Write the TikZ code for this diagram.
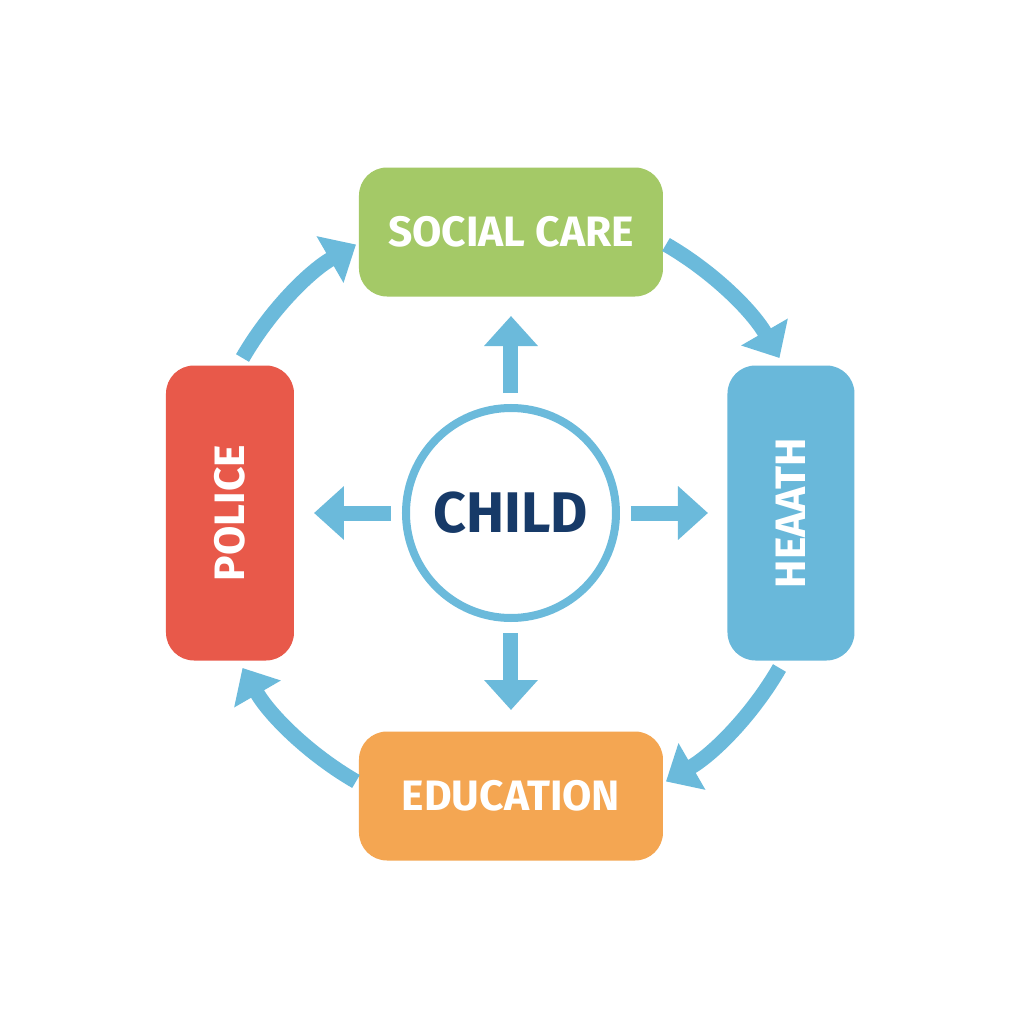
\documentclass[tikz,border=0pt]{standalone}
\usepackage{fontspec}
\setmainfont{Fira Sans}
\usetikzlibrary{arrows.meta}

\definecolor{caregreen}{HTML}{A4C967}
\definecolor{healthblue}{HTML}{69B8DA}
\definecolor{policered}{HTML}{E8594A}
\definecolor{eduorange}{HTML}{F4A652}
\definecolor{linkblue}{HTML}{6BBADB}
\definecolor{childnavy}{HTML}{173A68}

\tikzset{
  agency/.style={rounded corners=0.28cm, inner sep=0pt, text=white,
    font=\bfseries\fontsize{12.1}{14}\selectfont},
  flow/.style={draw=linkblue, line width=0.15cm,
    -{Triangle[width=0.52cm,length=0.30cm]}},
}

\begin{document}
\begin{tikzpicture}
    \fill[white] (-5.11,-5.11) rectangle (5.13,5.13);
    \useasboundingbox (-5.11,-5.11) rectangle (5.13,5.13);
    % centre
    \node[circle,draw=linkblue,line width=0.08cm,minimum size=2.10cm,inner sep=0pt,
      text=childnavy,font=\bfseries\fontsize{16.3}{18}\selectfont] (child) at (0,0) {CHILD};
    % agencies
    \node[agency,fill=caregreen,minimum width=3.04cm,minimum height=1.29cm] (social) at (0,2.81) {SOCIAL CARE};
    \node[agency,fill=healthblue,minimum width=2.95cm,minimum height=1.27cm,rotate=90] (health) at (2.80,0) {HEAATH};
    \node[agency,fill=eduorange,minimum width=3.04cm,minimum height=1.29cm] (education) at (0,-2.83) {EDUCATION};
    \node[agency,fill=policered,minimum width=2.95cm,minimum height=1.28cm,rotate=90] (police) at (-2.81,0) {POLICE};
    % spokes out of the child
    \draw[flow] ([yshift=0.11cm]child.north) -- ([yshift=0.88cm]child.north);
    \draw[flow] ([xshift=0.11cm]child.east) -- ([xshift=0.88cm]child.east);
    \draw[flow] ([yshift=-0.11cm]child.south) -- ([yshift=-0.88cm]child.south);
    \draw[flow] ([xshift=-0.11cm]child.west) -- ([xshift=-0.88cm]child.west);
    % ring between agencies
    \coordinate (ps) at (150:3.1);
    \coordinate (sh) at (60:3.1);
    \coordinate (he) at (-30:3.1);
    \coordinate (ep) at (-120:3.1);
    \draw[flow] (ps) arc[start angle=150,end angle=120,radius=3.1];
    \draw[flow] (sh) arc[start angle=60,end angle=30,radius=3.1];
    \draw[flow] (he) arc[start angle=-30,end angle=-60,radius=3.1];
    \draw[flow] (ep) arc[start angle=-120,end angle=-150,radius=3.1];
\end{tikzpicture}
\end{document}
